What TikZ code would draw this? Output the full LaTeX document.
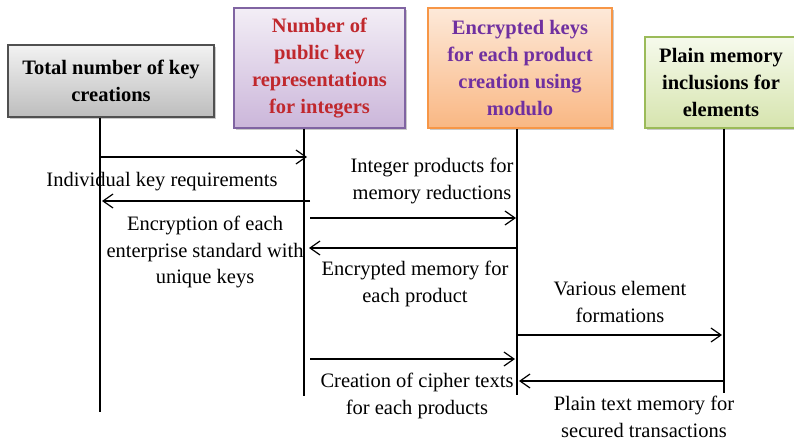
\documentclass[tikz,border=0pt]{standalone}
\usepackage{fontspec}
\setmainfont{Liberation Serif}
\usetikzlibrary{arrows.meta,shadows}
\definecolor{bgray1}{HTML}{F2F2F2}
\definecolor{bgray2}{HTML}{BDBDBD}
\definecolor{bgrayb}{HTML}{505050}
\definecolor{bpur1}{HTML}{F3EEF6}
\definecolor{bpur2}{HTML}{CBB6DA}
\definecolor{bpurb}{HTML}{8064A2}
\definecolor{bora1}{HTML}{FDE9D9}
\definecolor{bora2}{HTML}{F9B783}
\definecolor{borab}{HTML}{F79646}
\definecolor{bgre1}{HTML}{F6FAEC}
\definecolor{bgre2}{HTML}{D6E4AE}
\definecolor{bgreb}{HTML}{9BBB59}
\definecolor{tred}{HTML}{C0282D}
\definecolor{tpur}{HTML}{7030A0}
\begin{document}
\begin{tikzpicture}[x=1pt,y=-1pt,
  actor/.style={draw, line width=1.2pt, align=center, inner sep=2pt,
    font=\fontsize{20.5}{27.3}\selectfont\bfseries,
    drop shadow={shadow xshift=1.5pt, shadow yshift=-1.5pt, fill=black!35, opacity=0.6}},
  life/.style={line width=1.2pt},
  msg/.style={line width=1.2pt, -{Straight Barb[length=10pt,width=14pt,line width=1.2pt]}},
  lbl/.style={align=center, inner sep=0pt, font=\fontsize{20.5}{26.7}\selectfont}]
\useasboundingbox (0,0) rectangle (794,442);
% actor boxes
\node[actor, draw=bgrayb, top color=bgray1, bottom color=bgray2,
  minimum width=206pt, minimum height=72pt] (A) at (111,81)
  {Total number of key\\creations};
\node[actor, draw=bpurb, top color=bpur1, bottom color=bpur2, text=tred,
  minimum width=171pt, minimum height=120pt] (B) at (319.5,68)
  {Number of\\public key\\representations\\for integers};
\node[actor, draw=borab, top color=bora1, bottom color=bora2, text=tpur,
  minimum width=184pt, minimum height=120pt] (C) at (520,68)
  {Encrypted keys\\for each product\\creation using\\modulo};
\node[actor, draw=bgreb, top color=bgre1, bottom color=bgre2,
  minimum width=152pt, minimum height=91pt] (D) at (721,82.5)
  {Plain memory\\inclusions for\\elements};
% lifelines
\coordinate (Ab) at (100,412);
\coordinate (Bb) at (304,396);
\coordinate (Cb) at (517,395);
\coordinate (Db) at (724,393);
\draw[life] (A.south -| Ab) -- (Ab);
\draw[life] (B.south -| Bb) -- (Bb);
\draw[life] (C.south -| Cb) -- (Cb);
\draw[life] (D.south -| Db) -- (Db);
% message end points
\coordinate (m1s) at (100,157); \coordinate (m1e) at (307,157);
\coordinate (m2s) at (310,201); \coordinate (m2e) at (102,201);
\coordinate (m3s) at (310,218); \coordinate (m3e) at (516,218);
\coordinate (m4s) at (517,248); \coordinate (m4e) at (309,248);
\coordinate (m5s) at (517,335); \coordinate (m5e) at (722,335);
\coordinate (m6s) at (310,359); \coordinate (m6e) at (515,359);
\coordinate (m7s) at (724,381); \coordinate (m7e) at (519,381);
\draw[msg] (m1s) -- (m1e);
\draw[msg] (m2s) -- (m2e);
\draw[msg] (m3s) -- (m3e);
\draw[msg] (m4s) -- (m4e);
\draw[msg] (m5s) -- (m5e);
\draw[msg] (m6s) -- (m6e);
\draw[msg] (m7s) -- (m7e);
% labels
\node[lbl] (l1) at (162,182) {Individual key requirements};
\node[lbl] (l2) at (432,181) {Integer products for\\memory reductions};
\node[lbl] (l3) at (205,252) {Encryption of each\\enterprise standard with\\unique keys};
\node[lbl] (l4) at (415,284) {Encrypted memory for\\each product};
\node[lbl] (l5) at (620,302) {Various element\\formations};
\node[lbl] (l6) at (417,396) {Creation of cipher texts\\for each products};
\node[lbl] (l7) at (644,417) {Plain text memory for\\secured transactions};
\end{tikzpicture}
\end{document}
